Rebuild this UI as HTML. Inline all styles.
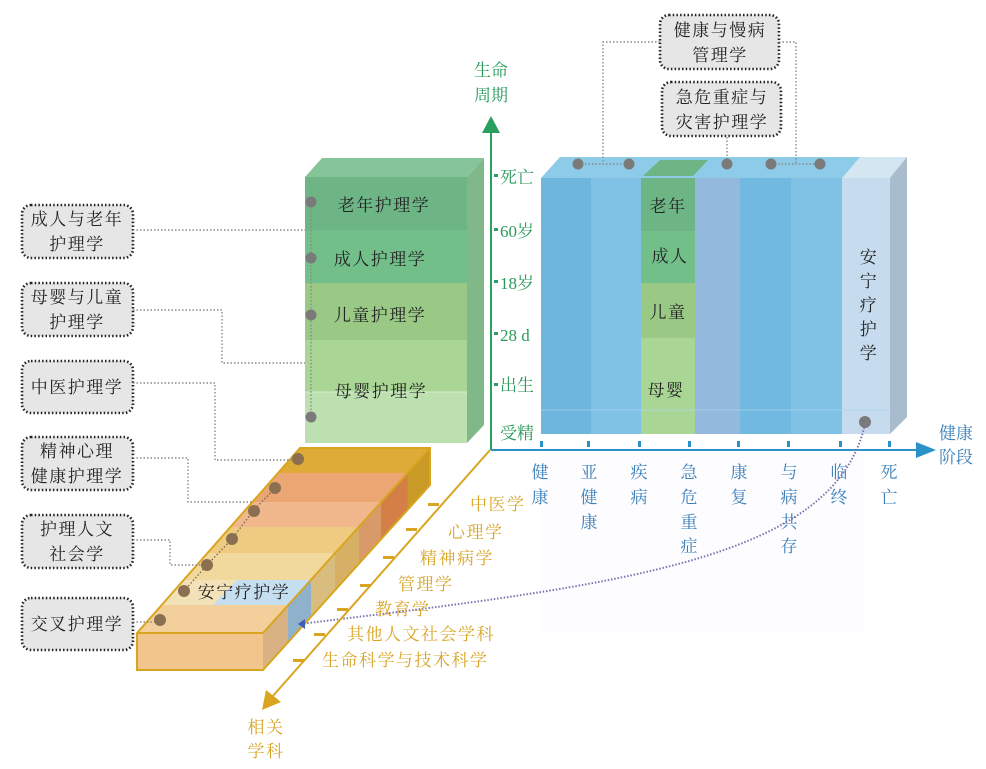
<!DOCTYPE html>
<html><head><meta charset="utf-8"><style>
html,body{margin:0;padding:0;background:#fff}
svg{display:block}
text{font-family:"Liberation Serif","Noto Serif CJK SC","Noto Sans CJK SC",serif}
.bx{fill:#e6e6e6;stroke:#222;stroke-width:2.6;stroke-dasharray:1.5 2.2}
.bt{font-size:17px;fill:#222;letter-spacing:1.5px}
.dl{fill:none;stroke:#8a8a8a;stroke-width:1.4;stroke-dasharray:1.5 2}
.g{fill:#2a9a5a;font-size:17px}
.b{fill:#3a7fb8;font-size:17px}
.o{fill:#d9a526;font-size:17px;letter-spacing:1.5px}
.dot{fill:#7a7a7a}
.odot{fill:#8a6f50}
</style></head><body>
<svg width="986" height="769" viewBox="0 0 986 769" xmlns="http://www.w3.org/2000/svg">
<rect x="540" y="452" width="325" height="180" fill="#fdfcff"/>

<rect class="bx" x="22" y="205" width="111" height="53" rx="9"/>
<text class="bt" x="77" y="225" text-anchor="middle">成人与老年</text>
<text class="bt" x="77" y="250" text-anchor="middle">护理学</text>
<rect class="bx" x="22" y="283" width="111" height="53" rx="9"/>
<text class="bt" x="77" y="303" text-anchor="middle">母婴与儿童</text>
<text class="bt" x="77" y="328" text-anchor="middle">护理学</text>
<rect class="bx" x="22" y="361" width="111" height="52" rx="9"/>
<text class="bt" x="77" y="393" text-anchor="middle">中医护理学</text>
<rect class="bx" x="22" y="437" width="111" height="53" rx="9"/>
<text class="bt" x="77" y="457" text-anchor="middle">精神心理</text>
<text class="bt" x="77" y="482" text-anchor="middle">健康护理学</text>
<rect class="bx" x="22" y="515" width="111" height="53" rx="9"/>
<text class="bt" x="77" y="535" text-anchor="middle">护理人文</text>
<text class="bt" x="77" y="560" text-anchor="middle">社会学</text>
<rect class="bx" x="22" y="598" width="111" height="52" rx="9"/>
<text class="bt" x="77" y="630" text-anchor="middle">交叉护理学</text>

<rect class="bx" x="660" y="15" width="119" height="54" rx="9"/>
<text class="bt" x="720" y="36" text-anchor="middle">健康与慢病</text>
<text class="bt" x="720" y="61" text-anchor="middle">管理学</text>
<rect class="bx" x="662" y="82" width="119" height="54" rx="9"/>
<text class="bt" x="722" y="103" text-anchor="middle">急危重症与</text>
<text class="bt" x="722" y="128" text-anchor="middle">灾害护理学</text>

<polygon points="305,177 322,158 484,158 467,177" fill="#86c49a"/>
<polygon points="467,177 484,158 484,425 467,443" fill="#80b88a"/>
<rect x="305" y="177" width="162" height="53" fill="#6db585"/>
<rect x="305" y="230" width="162" height="53" fill="#72bf8a"/>
<rect x="305" y="283" width="162" height="57" fill="#99c985"/>
<rect x="305" y="340" width="162" height="52" fill="#a9d595"/>
<rect x="305" y="392" width="162" height="51" fill="#bde0b0"/>
<line x1="305" y1="392" x2="467" y2="392" stroke="#d6ecd0" stroke-width="1"/>
<text class="bt" x="384" y="211" text-anchor="middle">老年护理学</text>
<text class="bt" x="380" y="265" text-anchor="middle">成人护理学</text>
<text class="bt" x="380" y="321" text-anchor="middle">儿童护理学</text>
<text class="bt" x="381" y="397" text-anchor="middle">母婴护理学</text>
<line class="dl" x1="311" y1="202" x2="311" y2="417"/>
<circle class="dot" cx="311" cy="202" r="5.5"/>
<circle class="dot" cx="311" cy="258" r="5.5"/>
<circle class="dot" cx="311" cy="315" r="5.5"/>
<circle class="dot" cx="311" cy="417" r="5.5"/>

<polygon points="541,178 560,157 907,157 890,178" fill="#8ecbe8"/>
<polygon points="643,176 660,160 708,160 693,176" fill="#6db585"/>
<polygon points="842,178 860,157 907,157 890,178" fill="#d3e6f2"/>
<polygon points="890,178 907,157 907,417 890,434" fill="#a9bccd"/>
<rect x="541" y="178" width="50" height="256" fill="#6fb6df"/>
<rect x="591" y="178" width="50" height="256" fill="#80c1e6"/>
<rect x="641" y="178" width="54" height="53" fill="#6db585"/>
<rect x="641" y="231" width="54" height="52" fill="#72bf8a"/>
<rect x="641" y="283" width="54" height="55" fill="#99c985"/>
<rect x="641" y="338" width="54" height="96" fill="#a9d595"/>
<rect x="695" y="178" width="45" height="256" fill="#93b9dd"/>
<rect x="740" y="178" width="51" height="256" fill="#72b9e2"/>
<rect x="791" y="178" width="51" height="256" fill="#80c1e6"/>
<rect x="842" y="178" width="48" height="256" fill="#c6dcee"/>
<line x1="541" y1="410" x2="890" y2="410" stroke="#a8d6ee" stroke-width="1" opacity="0.7"/>
<text class="bt" x="668" y="212" text-anchor="middle">老年</text>
<text class="bt" x="670" y="262" text-anchor="middle">成人</text>
<text class="bt" x="668" y="318" text-anchor="middle">儿童</text>
<text class="bt" x="666" y="396" text-anchor="middle">母婴</text>
<text class="bt" x="869" y="263" text-anchor="middle">安</text>
<text class="bt" x="869" y="287" text-anchor="middle">宁</text>
<text class="bt" x="869" y="311" text-anchor="middle">疗</text>
<text class="bt" x="869" y="335" text-anchor="middle">护</text>
<text class="bt" x="869" y="359" text-anchor="middle">学</text>

<polyline class="dl" points="660,42 603,42 603,164"/>
<polyline class="dl" points="779,42 796,42 796,164"/>
<line class="dl" x1="727" y1="137" x2="727" y2="164"/>
<line class="dl" x1="578" y1="164" x2="629" y2="164"/>
<line class="dl" x1="771" y1="164" x2="820" y2="164"/>
<circle class="dot" cx="578" cy="164" r="5.5"/>
<circle class="dot" cx="629" cy="164" r="5.5"/>
<circle class="dot" cx="727" cy="164" r="5.5"/>
<circle class="dot" cx="771" cy="164" r="5.5"/>
<circle class="dot" cx="820" cy="164" r="5.5"/>
<circle class="dot" cx="865" cy="422" r="6"/>

<line x1="491" y1="450" x2="491" y2="132" stroke="#2aa060" stroke-width="2"/>
<polygon points="482,133 491,116 500,133" fill="#2aa060"/>
<text class="g" x="491" y="76" text-anchor="middle">生命</text>
<text class="g" x="491" y="101" text-anchor="middle">周期</text>
<g fill="#2aa060"><rect x="494" y="174" width="4" height="3"/><rect x="494" y="228" width="4" height="3"/><rect x="494" y="280" width="4" height="3"/><rect x="494" y="332" width="4" height="3"/><rect x="494" y="383" width="4" height="3"/></g>
<text class="g" x="500" y="183">死亡</text>
<text class="g" x="500" y="237">60岁</text>
<text class="g" x="500" y="289">18岁</text>
<text class="g" x="500" y="341">28 d</text>
<text class="g" x="500" y="391">出生</text>
<text class="g" x="500" y="439">受精</text>

<line x1="491" y1="450" x2="918" y2="450" stroke="#2a92c8" stroke-width="2"/>
<polygon points="916,442 936,450 916,458" fill="#2a92c8"/>
<text class="b" x="956" y="439" text-anchor="middle">健康</text>
<text class="b" x="956" y="463" text-anchor="middle">阶段</text>
<g fill="#2a92c8"><rect x="540" y="441" width="3" height="6"/><rect x="587" y="441" width="3" height="6"/><rect x="638" y="441" width="3" height="6"/><rect x="688" y="441" width="3" height="6"/><rect x="737" y="441" width="3" height="6"/><rect x="787" y="441" width="3" height="6"/><rect x="839" y="441" width="3" height="6"/><rect x="888" y="441" width="3" height="6"/></g>
<g class="b" text-anchor="middle">
<text x="540" y="478">健</text><text x="540" y="503">康</text>
<text x="589" y="478">亚</text><text x="589" y="503">健</text><text x="589" y="528">康</text>
<text x="639" y="478">疾</text><text x="639" y="503">病</text>
<text x="689" y="478">急</text><text x="689" y="503">危</text><text x="689" y="528">重</text><text x="689" y="552">症</text>
<text x="739" y="478">康</text><text x="739" y="503">复</text>
<text x="789" y="478">与</text><text x="789" y="503">病</text><text x="789" y="528">共</text><text x="789" y="552">存</text>
<text x="839" y="478">临</text><text x="839" y="503">终</text>
<text x="889" y="478">死</text><text x="889" y="503">亡</text>
</g>

<polygon points="300,448 430,448 407.5,473 278,473" fill="#deab38"/>
<polygon points="278,473 407.5,473 381,502 252,502" fill="#eba673"/>
<polygon points="252,502 381,502 359,527 230,527" fill="#f0b88c"/>
<polygon points="230,527 359,527 335,553 207.5,553" fill="#eecb80"/>
<polygon points="207.5,553 335,553 311,580 184,580" fill="#f1d89c"/>
<polygon points="184,580 311,580 288,605 162,605" fill="#f3e2b8"/>
<polygon points="237,580 311,580 288,605 213,605" fill="#c5def0"/>
<polygon points="162,605 288,605 263,633 137,633" fill="#f3cf9b"/>
<polygon points="430,448 407.5,473 407.5,510 430,485" fill="#c99a25"/>
<polygon points="407.5,473 381,502 381,539 407.5,510" fill="#d47f45"/>
<polygon points="381,502 359,527 359,564 381,539" fill="#d99a6a"/>
<polygon points="359,527 335,553 335,590 359,564" fill="#d6b065"/>
<polygon points="335,553 311,580 311,617 335,590" fill="#d9bd7e"/>
<polygon points="311,580 288,605 288,642 311,617" fill="#8fb1cc"/>
<polygon points="288,605 263,633 263,670 288,642" fill="#d9b283"/>
<rect x="137" y="633" width="126" height="37" fill="#f2c58c"/>
<polygon points="137,633 300,448 430,448 430,485 263,670 137,670" fill="none" stroke="#d9a520" stroke-width="2"/>
<line x1="137" y1="633" x2="263" y2="633" stroke="#d9a520" stroke-width="2"/>
<line x1="263" y1="633" x2="430" y2="448" stroke="#d9a520" stroke-width="2"/>
<text class="bt" x="244" y="598" text-anchor="middle">安宁疗护学</text>

<polyline class="dl" points="133,230 305,230"/>
<polyline class="dl" points="133,310 222,310 222,363 305,363"/>
<polyline class="dl" points="133,383 215,383 215,460 298,460"/>
<polyline class="dl" points="133,458 188,458 188,502 253,502"/>
<polyline class="dl" points="133,540 170,540 170,565 207,565"/>
<polyline class="dl" points="133,622 160,622"/>
<polyline class="dl" points="275,488 253,511 232,539 207,565 184,591" style="stroke:#7a6a50"/>
<circle class="odot" cx="298" cy="459" r="6"/>
<circle class="odot" cx="275" cy="488" r="6"/>
<circle class="odot" cx="254" cy="511" r="6"/>
<circle class="odot" cx="232" cy="539" r="6"/>
<circle class="odot" cx="207" cy="565" r="6"/>
<circle class="odot" cx="184" cy="591" r="6"/>
<circle class="odot" cx="160" cy="620" r="6"/>

<path d="M865,424 C835,560 620,585 300,624" fill="none" stroke="#7f72b0" stroke-width="2" stroke-dasharray="1.5 1.8"/>
<polygon points="298,624 305,619 305,629" fill="#3a5fb8"/>

<line x1="490" y1="450" x2="272" y2="697" stroke="#d9a520" stroke-width="2"/>
<polygon points="262,710 266,690 281,702" fill="#d9a520"/>
<g fill="#d9a520">
<rect x="428" y="503" width="11" height="3"/><rect x="406" y="528" width="11" height="3"/><rect x="383" y="556" width="11" height="3"/><rect x="360" y="584" width="11" height="3"/><rect x="337" y="608" width="11" height="3"/><rect x="314" y="633" width="11" height="3"/><rect x="293" y="659" width="11" height="3"/>
</g>
<text class="o" x="470" y="510">中医学</text>
<text class="o" x="448" y="538">心理学</text>
<text class="o" x="420" y="564">精神病学</text>
<text class="o" x="398" y="590">管理学</text>
<text class="o" x="375" y="615">教育学</text>
<text class="o" x="347" y="640">其他人文社会学科</text>
<text class="o" x="322" y="666">生命科学与技术科学</text>
<text class="o" x="266" y="733" text-anchor="middle">相关</text>
<text class="o" x="266" y="757" text-anchor="middle">学科</text>
</svg>
</body></html>
